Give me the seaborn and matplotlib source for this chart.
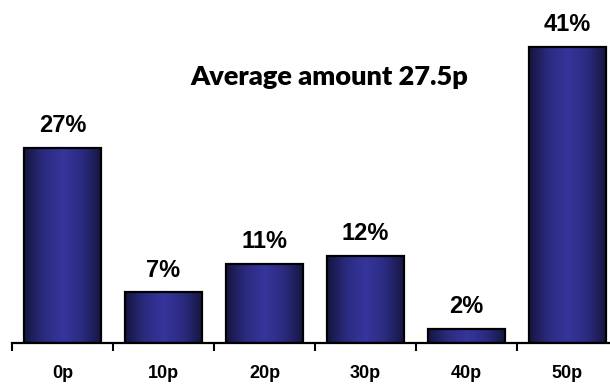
import numpy as np
import pandas as pd
import matplotlib
matplotlib.use('Agg')
import matplotlib.pyplot as plt
import seaborn as sns
from matplotlib.colors import LinearSegmentedColormap

# Data
amounts = ['0p', '10p', '20p', '30p', '40p', '50p']
shares = [27, 7, 11, 12, 2, 41]
title_text = 'Average amount 27.5p'

df = pd.DataFrame({'amount': amounts, 'share': shares})

sns.set_style('white')
plt.rcParams['font.family'] = ['Liberation Sans', 'DejaVu Sans']
plt.rcParams['text.color'] = 'black'
plt.rcParams['xtick.color'] = 'black'

fig = plt.figure(figsize=(6.10, 3.87), dpi=100)
ax = fig.add_axes([12 / 610, 44 / 387, 606 / 610, 343 / 387])

sns.barplot(data=df, x='amount', y='share', color='#2e2e8a', width=0.77,
            edgecolor='black', linewidth=1.6, ax=ax, zorder=2)

# horizontal gradient inside each bar (dark edges, lighter middle)
grad_cmap = LinearSegmentedColormap.from_list('bar', ['#15153f', '#2b2b80', '#35359c', '#2b2b80', '#15153f'])
grad = np.linspace(0, 1, 256).reshape(1, -1)
for p in ax.patches:
    x0, y0 = p.get_x(), p.get_y()
    w, h = p.get_width(), p.get_height()
    im = ax.imshow(grad, cmap=grad_cmap, aspect='auto', extent=[x0, x0 + w, y0, y0 + h],
                   zorder=2.5, interpolation='bicubic')
    im.set_clip_path(p)
    p.set_facecolor('none')
    p.set_zorder(3)

for i, v in enumerate(shares):
    ax.text(i, v + 2.2, f'{v}%', ha='center', va='baseline', fontsize=17, fontweight='bold')

ax.set_xlim(-0.5, 5.5)
ax.set_ylim(0, 47.5)
ax.set_xlabel('')
ax.set_ylabel('')
ax.set_yticks([])

ax.set_xticks(range(len(amounts)))
ax.set_xticklabels(amounts, fontsize=13, fontweight='bold')
ax.set_xticks(np.arange(-0.5, 6, 1), minor=True)
ax.tick_params(axis='x', which='major', length=0, pad=16)
ax.tick_params(axis='x', which='minor', length=6, width=1.5, direction='out', bottom=True, color='black')

for s in ['top', 'right', 'left']:
    ax.spines[s].set_visible(False)
ax.spines['bottom'].set_linewidth(1.6)
ax.spines['bottom'].set_color('black')

fig.text(329 / 610, 1 - 77 / 387, title_text, ha='center', va='center', fontsize=19.5,
         fontweight='heavy', family=['Lato', 'DejaVu Sans'])

fig.savefig('out.png', dpi=100)
